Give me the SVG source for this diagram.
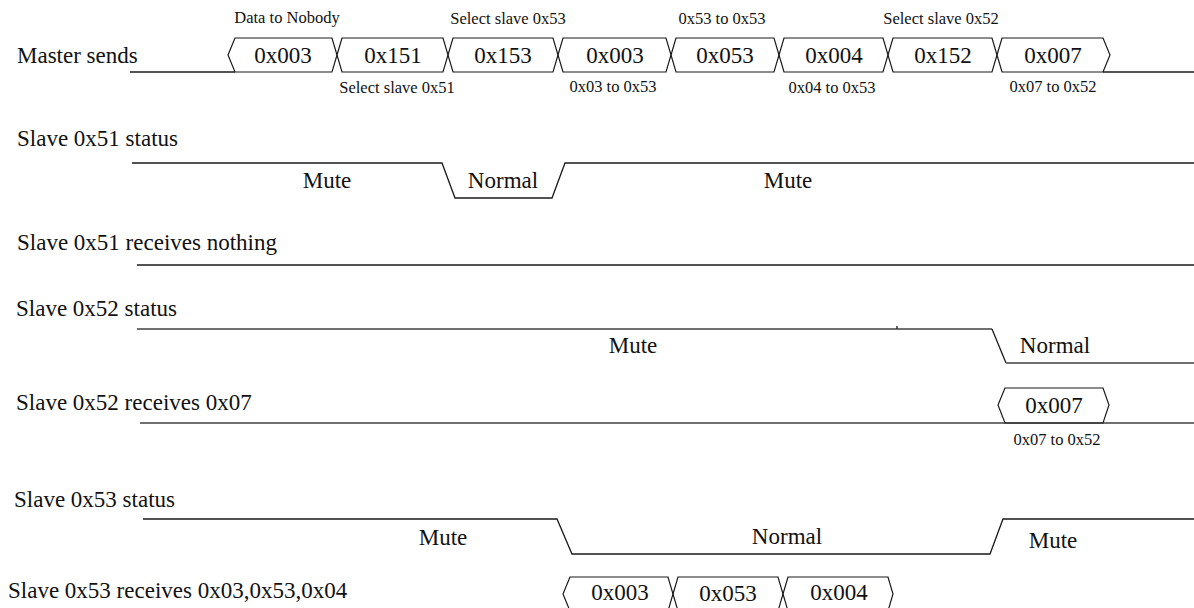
<svg xmlns="http://www.w3.org/2000/svg" width="1194" height="608" viewBox="0 0 1194 608">
<style>
text{font-family:"Liberation Serif","Times New Roman",serif;fill:#111}
.lbl{font-size:23px}
.val{font-size:23px;text-anchor:middle}
.st{font-size:23px;text-anchor:middle}
.sm{font-size:16.5px;text-anchor:middle}
.ln{fill:none;stroke:#1a1a1a;stroke-width:1.3;stroke-linejoin:miter}
.gr{fill:none;stroke:#707070;stroke-width:2}
.hx{fill:none;stroke:#1a1a1a;stroke-width:1.2}
</style>
<rect width="1194" height="608" fill="#fff"/>

<g id="labels">
<text class="lbl" x="17" y="63">Master sends</text>
<text class="lbl" x="17" y="146">Slave 0x51 status</text>
<text class="lbl" x="17" y="250">Slave 0x51 receives nothing</text>
<text class="lbl" x="16" y="316">Slave 0x52 status</text>
<text class="lbl" x="16" y="410">Slave 0x52 receives 0x07</text>
<text class="lbl" x="14" y="507">Slave 0x53 status</text>
<text class="lbl" x="8" y="598">Slave 0x53 receives 0x03,0x53,0x04</text>
</g>

<g id="connectors">
<line class="ln" x1="130" y1="72" x2="235" y2="72"/>
<line class="ln" x1="1103" y1="72" x2="1194" y2="72"/>
<polyline class="ln" points="132,163 442,163 455,198 552,198 565,163 1194,163"/>
<line class="ln" x1="137" y1="265" x2="1194" y2="265"/>
<line class="gr" x1="137" y1="329" x2="992" y2="329"/>
<line x1="897" y1="326" x2="897" y2="329" stroke="#333" stroke-width="1.5"/>
<line class="ln" x1="992" y1="329" x2="1006" y2="363"/>
<line class="gr" x1="1006" y1="363" x2="1194" y2="363"/>
<line class="gr" x1="140" y1="423" x2="1194" y2="423"/>
<polyline class="ln" points="143,519 557,519 572,554 990,554 1003,519 1194,519"/>
</g>

<g id="master-bus">
<g id="m1"><polygon class="hx" points="228,55 235,38 332,38 337,55 332,72 235,72"/><text class="val" x="283" y="63">0x003</text></g>
<g id="m2"><polygon class="hx" points="337,55 342,38 443,38 448,55 443,72 342,72"/><text class="val" x="393" y="63">0x151</text></g>
<g id="m3"><polygon class="hx" points="448,55 453,38 553,38 558,55 553,72 453,72"/><text class="val" x="503" y="63">0x153</text></g>
<g id="m4"><polygon class="hx" points="558,55 563,38 666,38 671,55 666,72 563,72"/><text class="val" x="615" y="63">0x003</text></g>
<g id="m5"><polygon class="hx" points="671,55 676,38 774,38 779,55 774,72 676,72"/><text class="val" x="725" y="63">0x053</text></g>
<g id="m6"><polygon class="hx" points="779,55 784,38 883,38 888,55 883,72 784,72"/><text class="val" x="834" y="63">0x004</text></g>
<g id="m7"><polygon class="hx" points="888,55 893,38 992,38 997,55 992,72 893,72"/><text class="val" x="943" y="63">0x152</text></g>
<g id="m8"><polygon class="hx" points="997,55 1002,38 1103,38 1110,55 1103,72 1002,72"/><text class="val" x="1053" y="63">0x007</text></g>
</g>

<g id="master-notes">
<text class="sm" x="287" y="23">Data to Nobody</text>
<text class="sm" x="508" y="24">Select slave 0x53</text>
<text class="sm" x="722" y="24">0x53 to 0x53</text>
<text class="sm" x="941" y="24">Select slave 0x52</text>
<text class="sm" x="397" y="93">Select slave 0x51</text>
<text class="sm" x="613" y="92">0x03 to 0x53</text>
<text class="sm" x="832" y="93">0x04 to 0x53</text>
<text class="sm" x="1053" y="92">0x07 to 0x52</text>
</g>

<g id="s51-status">
<text class="st" x="327" y="188">Mute</text>
<text class="st" x="503" y="188">Normal</text>
<text class="st" x="788" y="188">Mute</text>
</g>

<g id="s52-status">
<text class="st" x="633" y="353">Mute</text>
<text class="st" x="1055" y="353">Normal</text>
</g>

<g id="s52-receive">
<polygon class="hx" points="998,405 1005,388 1103,388 1109,405 1103,423 1005,423"/>
<text class="val" x="1054" y="413">0x007</text>
<text class="sm" x="1057" y="445">0x07 to 0x52</text>
</g>

<g id="s53-status">
<text class="st" x="443" y="545">Mute</text>
<text class="st" x="787" y="544">Normal</text>
<text class="st" x="1053" y="548">Mute</text>
</g>

<g id="s53-receive">
<g id="r1"><polygon class="hx" points="563,594 570,577 668,577 673,594 668,611 570,611"/><text class="val" x="620" y="600">0x003</text></g>
<g id="r2"><polygon class="hx" points="673,594 678,577 778,577 783,594 778,611 678,611"/><text class="val" x="728" y="601">0x053</text></g>
<g id="r3"><polygon class="hx" points="783,594 788,577 888,577 893,594 888,611 788,611"/><text class="val" x="839" y="600">0x004</text></g>
</g>
</svg>
